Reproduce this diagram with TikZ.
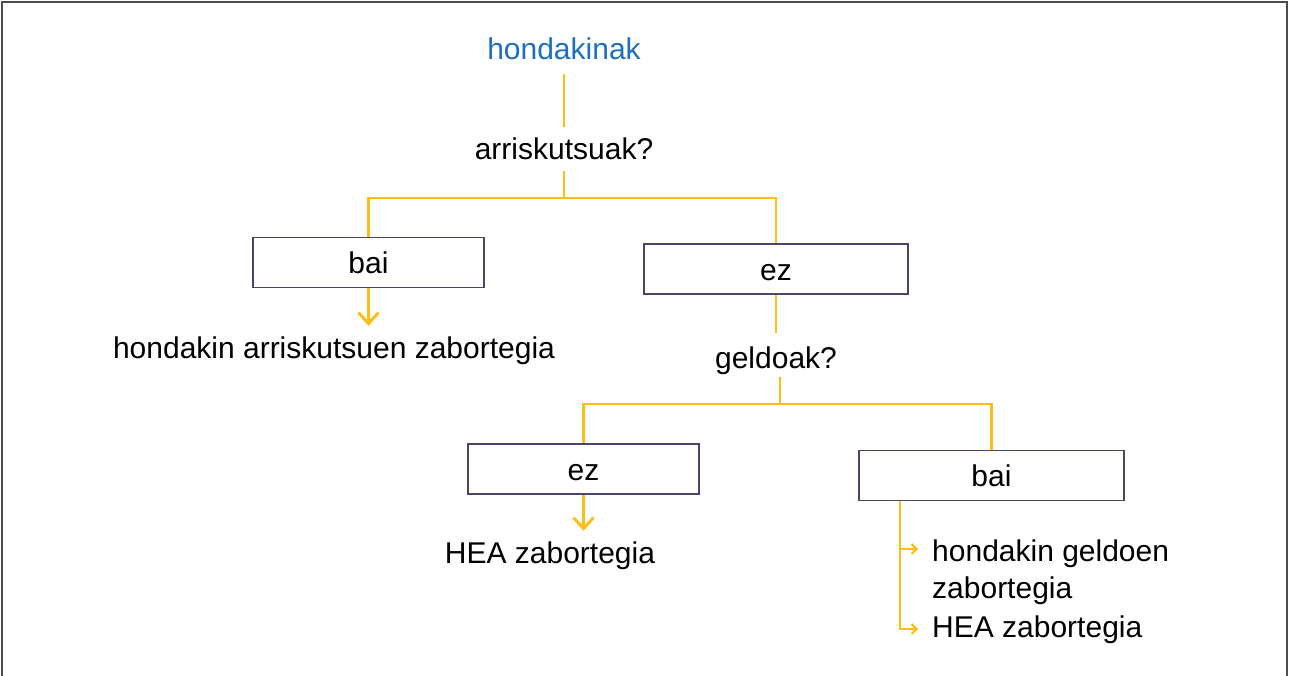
\documentclass[tikz,border=0pt]{standalone}
\usepackage{fontspec}
\setmainfont{Liberation Sans}
\usetikzlibrary{positioning, arrows.meta}
\definecolor{branchyellow}{RGB}{255,190,20}
\definecolor{titleblue}{RGB}{30,112,190}
\definecolor{boxline}{RGB}{70,70,110}
\tikzset{
lbl/.style={font=\fontsize{30}{37}\selectfont, inner sep=0pt, text height=22pt, text depth=6pt}, % plain text labels
choice/.style={lbl, text depth=0pt, draw=boxline, line width=1.4pt, minimum width=#1, minimum height=50pt}, % the bai / ez boxes
branch/.style={draw=branchyellow, line width=2.6pt}, % yellow tree lines
bigarrow/.style={branch, -{Straight Barb[length=11pt, width=20pt, line width=3pt]}}, % arrow down to a result
smallarrow/.style={draw=branchyellow, line width=2pt, -{Straight Barb[length=5pt, width=10pt]}}, % little side arrows
}
\begin{document}
\begin{tikzpicture}[x=1pt, y=-1pt]
\useasboundingbox (0,0) rectangle (1289,675);
\draw[line width=1.5pt, gray!60!black] (2,680) |- (1287,2) -- (1287,680);

\node[lbl, text=titleblue] (hond) at (564,51) {hondakinak};
\node[lbl, below=72pt of hond] (arr) {arriskutsuak?};
\node[choice=231pt] (bai1) at (368.5,262.5) {bai};
\node[choice=264pt] (ez1) at (776,269) {ez};
\node[lbl] (res1) at (334,350) {hondakin arriskutsuen zabortegia};
\node[lbl, below=52pt of ez1] (geld) {geldoak?};
\node[choice=231pt] (ez2) at (583.5,469) {ez};
\node[choice=265pt] (bai2) at (991.5,475.5) {bai};
\node[lbl] (res2) at (550,555) {HEA zabortegia};
\node[lbl, text height=, text depth=, align=left, anchor=north west] (res3) at (932,540) {hondakin geldoen\\zabortegia};
\node[lbl, anchor=base west] (res4) at (932,637) {HEA zabortegia};

\coordinate (j1) at (564,198);
\coordinate (j2) at (780,404);
\coordinate (f) at ([xshift=42pt]bai2.south west);

\draw[branch, shorten <=9pt, shorten >=10pt] (hond) -- (arr);
\draw[branch, shorten <=5pt] (arr) -- (j1);
\draw[branch] (j1) -| (bai1);
\draw[branch] (j1) -| (ez1);
\draw[bigarrow, shorten >=10pt] (bai1) -- (bai1.south |- res1.north);
\draw[branch, shorten >=14pt] (ez1) -- (geld);
\draw[branch, shorten <=2pt] (geld.south -| j2) -- (j2);
\draw[branch] (j2) -| (ez2);
\draw[branch] (j2) -| (bai2);
\draw[bigarrow, shorten >=10pt] (ez2) -- (ez2.south |- res2.north);
\draw[smallarrow, shorten >=14pt] (f) |- ([yshift=-9pt]res3.north west);
\draw[smallarrow, shorten >=14pt] (f) |- (res4);
\end{tikzpicture}
\end{document}
